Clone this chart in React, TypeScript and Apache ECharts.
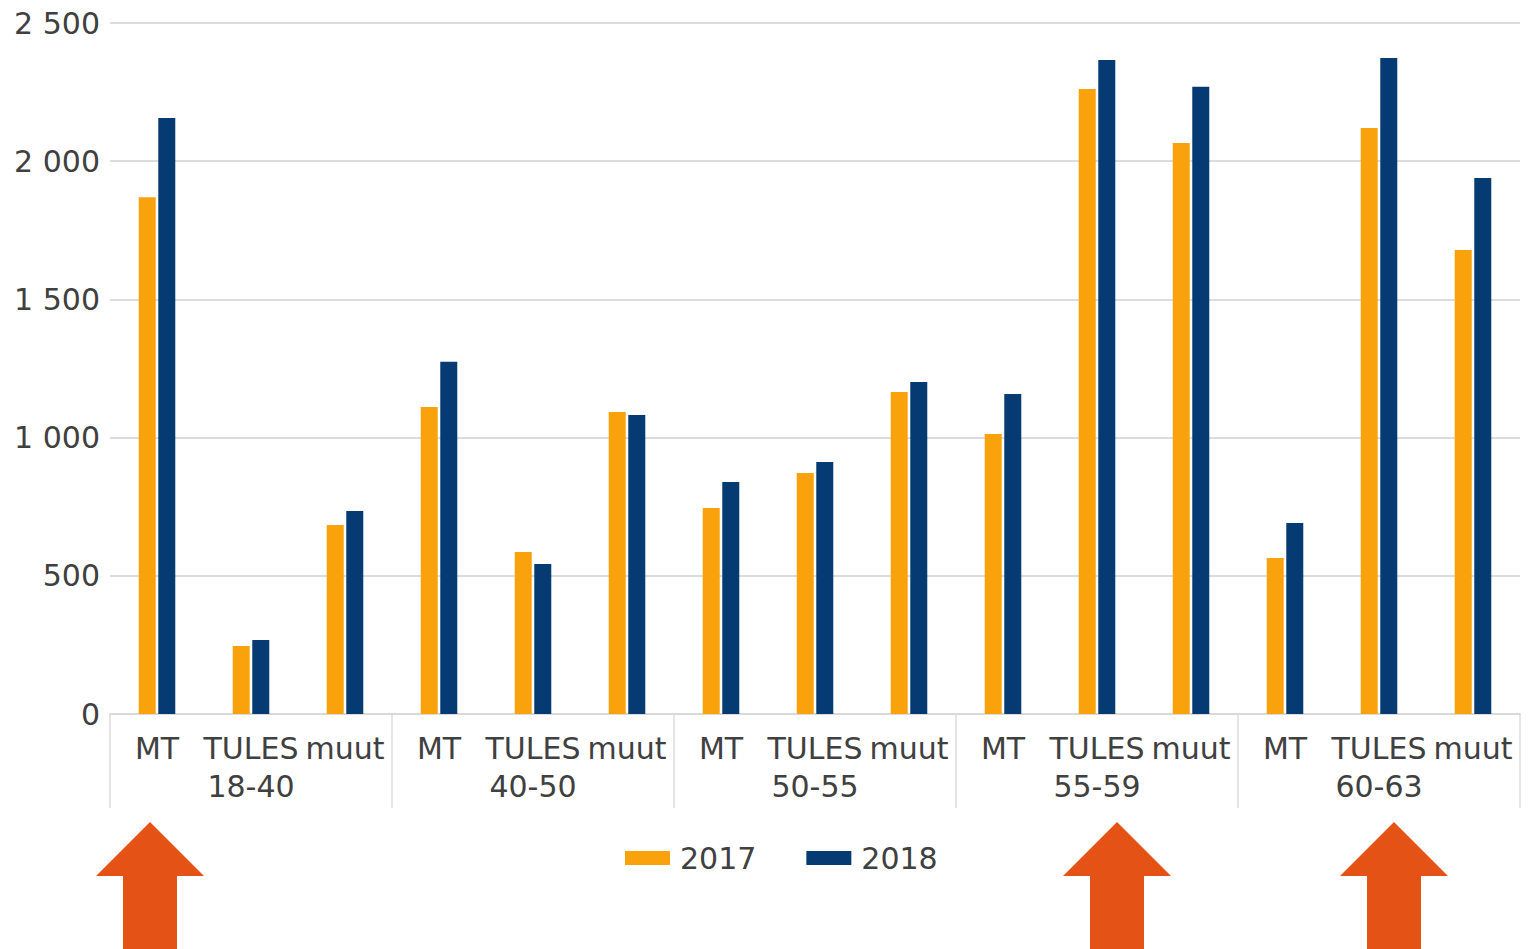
import React, { useEffect, useRef } from "react";
import * as echarts from "echarts";

const categories = [
  "MT", "TULES", "muut",
  "MT", "TULES", "muut",
  "MT", "TULES", "muut",
  "MT", "TULES", "muut",
  "MT", "TULES", "muut",
];
const groups = ["18-40", "40-50", "50-55", "55-59", "60-63"];
const series2017 = [1870, 246, 684, 1111, 586, 1093, 745, 872, 1165, 1013, 2261, 2066, 564, 2120, 1679];
const series2018 = [2156, 268, 734, 1274, 543, 1082, 839, 912, 1201, 1158, 2366, 2269, 691, 2373, 1939];
const yTicks = [0, 500, 1000, 1500, 2000, 2500];
const arrowCenters = [150, 1117, 1394];

const FONT = "DejaVu Sans";
const TEXT = "#404040";
const ORANGE = "#F9A20B";
const NAVY = "#063A72";
const ARROW = "#E55215";

function arrowPoints(cx: number): number[][] {
  return [
    [cx, 822],
    [cx + 54, 876],
    [cx + 27, 876],
    [cx + 27, 949],
    [cx - 27, 949],
    [cx - 27, 876],
    [cx - 54, 876],
  ];
}

export default function App() {
  const ref = useRef<HTMLDivElement>(null);
  useEffect(() => {
    if (!ref.current) return;
    const chart = echarts.init(ref.current, undefined, { renderer: "svg" });
    chart.setOption({
      animation: false,
      backgroundColor: "#ffffff",
      textStyle: { fontFamily: FONT },
      grid: { left: 110, right: 18, top: 23, bottom: 235, containLabel: false },
      legend: {
        left: 620,
        top: 838,
        itemWidth: 45,
        itemHeight: 14,
        itemGap: 50,
        icon: "rect",
        textStyle: { fontFamily: FONT, fontSize: 30, color: TEXT, padding: [0, 0, 0, 5] },
        data: ["2017", "2018"],
      },
      xAxis: [
        {
          type: "category",
          data: categories,
          position: "bottom",
          axisLine: { show: true, lineStyle: { color: "#d9d9d9", width: 2 } },
          axisTick: { show: false },
          axisLabel: {
            interval: 0,
            margin: 19,
            fontFamily: FONT,
            fontSize: 30,
            color: TEXT,
          },
        },
        {
          type: "category",
          data: groups,
          position: "bottom",
          axisLine: { show: false },
          axisTick: { show: true, length: 94, lineStyle: { color: "#dcdcdc", width: 1.5 } },
          axisLabel: {
            interval: 0,
            margin: 57,
            fontFamily: FONT,
            fontSize: 30,
            color: TEXT,
          },
        },
      ],
      yAxis: {
        type: "value",
        min: yTicks[0],
        max: yTicks[yTicks.length - 1],
        interval: 500,
        axisLine: { show: false },
        axisTick: { show: false },
        splitLine: { lineStyle: { color: "#dcdcdc", width: 2 } },
        axisLabel: {
          margin: 10,
          fontFamily: FONT,
          fontSize: 30,
          color: TEXT,
          formatter: (v: number) => String(v).replace(/\B(?=(\d{3})+(?!\d))/g, " "),
        },
      },
      series: [
        {
          name: "2017",
          type: "bar",
          data: series2017,
          barWidth: 17,
          barGap: "15%",
          itemStyle: { color: ORANGE },
        },
        {
          name: "2018",
          type: "bar",
          data: series2018,
          barWidth: 17,
          barGap: "15%",
          itemStyle: { color: NAVY },
        },
      ],
      graphic: arrowCenters.map((cx) => ({
        type: "polygon",
        shape: { points: arrowPoints(cx) },
        style: { fill: ARROW },
        z: 100,
      })),
    });
    return () => chart.dispose();
  }, []);
  return (
    <div
      ref={ref}
      style={{ position: "fixed", left: 0, top: 0, width: 1538, height: 949 }}
    />
  );
}
